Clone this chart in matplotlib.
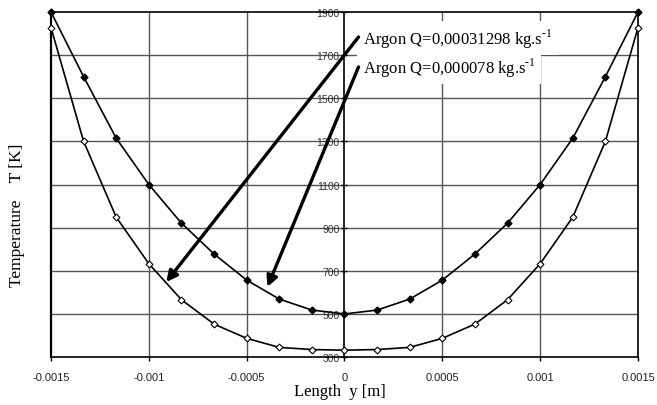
import matplotlib
matplotlib.use("Agg")
import matplotlib.pyplot as plt
import numpy as np

# positions along y [m], symmetric around the centre
length_y = [-0.0015, -0.0013333, -0.0011667, -0.001, -0.0008333, -0.0006667,
            -0.0005, -0.0003333, -0.0001667, 0.0, 0.0001667, 0.0003333,
            0.0005, 0.0006667, 0.0008333, 0.001, 0.0011667, 0.0013333, 0.0015]

# Argon Q=0,00031298 kg/s  (filled diamonds)
temp_high_q = [1900, 1600, 1315, 1100, 921, 778, 657, 569, 518, 500,
               518, 569, 657, 778, 921, 1100, 1315, 1600, 1900]

# Argon Q=0,000078 kg/s  (open diamonds)
temp_low_q = [1828, 1300, 949, 733, 566, 453, 387, 345, 335, 332,
              335, 345, 387, 453, 566, 733, 949, 1300, 1828]

x_ticks = [-0.0015, -0.001, -0.0005, 0, 0.0005, 0.001, 0.0015]
x_tick_labels = ["-0.0015", "-0.001", "-0.0005", "0", "0.0005", "0.001", "0.0015"]
y_ticks = [300, 500, 700, 900, 1100, 1300, 1500, 1700, 1900]

label_high = "Argon Q=0,00031298 kg.s$^{\\mathrm{\u2010}1}$"
label_low = "Argon Q=0,000078 kg.s$^{\\mathrm{\u2010}1}$"

serif = ["Liberation Serif", "DejaVu Serif"]
sans = ["Liberation Sans", "DejaVu Sans"]
plt.rcParams["mathtext.fontset"] = "custom"
plt.rcParams["mathtext.rm"] = "Liberation Serif"

fig = plt.figure(figsize=(6.57, 4.06), dpi=100)
ax = fig.add_axes([0.0776, 0.118, 0.8935, 0.850])

ax.set_xlim(-0.0015, 0.0015)
ax.set_ylim(300, 1900)

# grid
for yv in y_ticks[1:-1]:
    ax.axhline(yv, color="#555555", lw=1.0, zorder=1)
for xv in [-0.001, -0.0005, 0.0005, 0.001]:
    ax.axvline(xv, color="#555555", lw=1.0, zorder=1)

# frame: y axis spine sits at x = 0
ax.spines["left"].set_position(("data", 0))
for side in ["right", "top", "bottom", "left"]:
    ax.spines[side].set_linewidth(1.2)
    ax.spines[side].set_color("black")
ax.axvline(-0.0015, color="black", lw=1.6, zorder=3, clip_on=False)

ax.plot(length_y, temp_high_q, color="black", lw=1.2, marker="D",
        markersize=3.5, markerfacecolor="black", markeredgecolor="black",
        zorder=4, clip_on=False)
ax.plot(length_y, temp_low_q, color="black", lw=1.2, marker="D",
        markersize=3.5, markerfacecolor="white", markeredgecolor="black",
        markeredgewidth=0.8, zorder=4, clip_on=False)

ax.set_xticks(x_ticks)
ax.set_xticklabels(x_tick_labels, fontfamily=sans, fontsize=8, color="#222222")
ax.set_yticks(y_ticks)
ax.set_yticklabels([str(v) for v in y_ticks], fontfamily=sans, fontsize=7.5,
                   color="#333333")
ax.tick_params(axis="x", direction="out", length=3, width=1, pad=8)
ax.tick_params(axis="y", direction="inout", length=5, width=1, pad=1)

fig.text(0.518, 0.035, "Length  y [m]", ha="center", va="center",
         fontfamily=serif, fontsize=12)
fig.text(0.026, 0.47, "Temperature    T [K]", rotation=90, ha="center",
         va="center", fontfamily=serif, fontsize=12.5)

# white patch behind the two labels
ax.text(0.0000929, 1780, label_high, fontfamily=serif, fontsize=12,
        va="center", ha="left", zorder=5,
        bbox=dict(facecolor="white", edgecolor="none", pad=4))
ax.text(0.0000929, 1645, label_low, fontfamily=serif, fontsize=12,
        va="center", ha="left", zorder=5,
        bbox=dict(facecolor="white", edgecolor="none", pad=4))

arrow = dict(arrowstyle="-|>", lw=2.4, color="black", mutation_scale=16,
             shrinkA=0, shrinkB=0)
ax.annotate("", xy=(-0.000911, 648), xytext=(0.0000717, 1784),
            arrowprops=arrow, zorder=6)
ax.annotate("", xy=(-0.000394, 625), xytext=(0.0000717, 1645),
            arrowprops=arrow, zorder=6)

fig.savefig("out.png", dpi=100)
